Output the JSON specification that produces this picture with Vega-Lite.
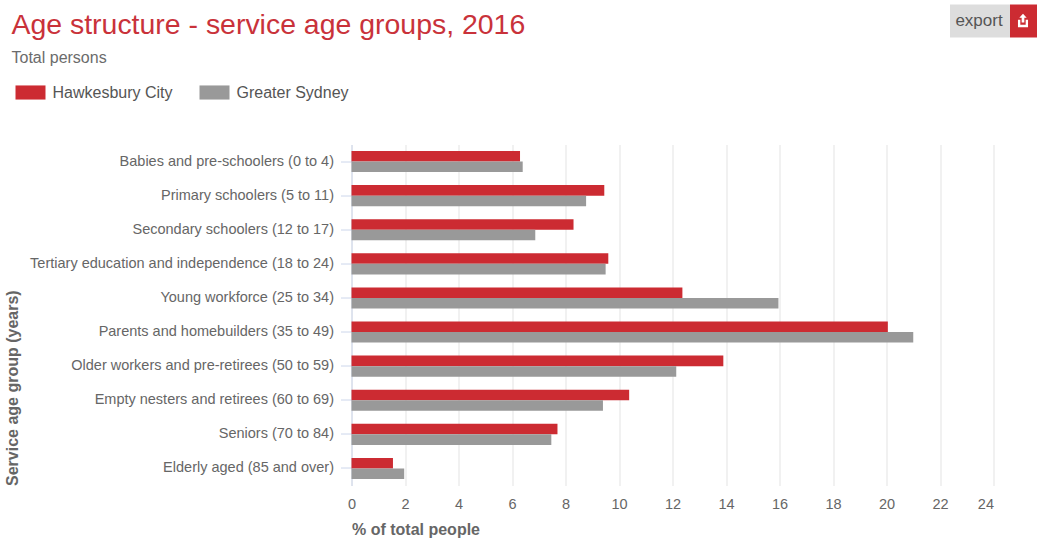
{
  "$schema": "https://vega.github.io/schema/vega-lite/v6.json",
  "width": 642,
  "height": 341,
  "autosize": "none",
  "padding": {"left": 351.5, "top": 144.5, "right": 43.5, "bottom": 54.5},
  "background": "white",
  "title": {
    "text": "Age structure - service age groups, 2016",
    "subtitle": "Total persons",
    "anchor": "start",
    "frame": "group",
    "dx": -340,
    "offset": -62,
    "font": "Liberation Sans",
    "fontSize": 28.45,
    "fontWeight": "normal",
    "color": "#c9323a",
    "subtitleFont": "Liberation Sans",
    "subtitleFontSize": 16,
    "subtitleColor": "#6b6b6b",
    "subtitlePadding": 9
  },
  "config": {"view": {"stroke": null}},
  "data": {
    "values": [
      {"group": "Babies and pre-schoolers (0 to 4)", "area": "Hawkesbury City", "pct": 6.3},
      {"group": "Babies and pre-schoolers (0 to 4)", "area": "Greater Sydney", "pct": 6.4},
      {"group": "Primary schoolers (5 to 11)", "area": "Hawkesbury City", "pct": 9.45},
      {"group": "Primary schoolers (5 to 11)", "area": "Greater Sydney", "pct": 8.77},
      {"group": "Secondary schoolers (12 to 17)", "area": "Hawkesbury City", "pct": 8.3},
      {"group": "Secondary schoolers (12 to 17)", "area": "Greater Sydney", "pct": 6.87},
      {"group": "Tertiary education and independence (18 to 24)", "area": "Hawkesbury City", "pct": 9.6},
      {"group": "Tertiary education and independence (18 to 24)", "area": "Greater Sydney", "pct": 9.5},
      {"group": "Young workforce (25 to 34)", "area": "Hawkesbury City", "pct": 12.37},
      {"group": "Young workforce (25 to 34)", "area": "Greater Sydney", "pct": 15.96},
      {"group": "Parents and homebuilders (35 to 49)", "area": "Hawkesbury City", "pct": 20.05},
      {"group": "Parents and homebuilders (35 to 49)", "area": "Greater Sydney", "pct": 21.0},
      {"group": "Older workers and pre-retirees (50 to 59)", "area": "Hawkesbury City", "pct": 13.9},
      {"group": "Older workers and pre-retirees (50 to 59)", "area": "Greater Sydney", "pct": 12.14},
      {"group": "Empty nesters and retirees (60 to 69)", "area": "Hawkesbury City", "pct": 10.38},
      {"group": "Empty nesters and retirees (60 to 69)", "area": "Greater Sydney", "pct": 9.4},
      {"group": "Seniors (70 to 84)", "area": "Hawkesbury City", "pct": 7.7},
      {"group": "Seniors (70 to 84)", "area": "Greater Sydney", "pct": 7.47},
      {"group": "Elderly aged (85 and over)", "area": "Hawkesbury City", "pct": 1.55},
      {"group": "Elderly aged (85 and over)", "area": "Greater Sydney", "pct": 1.97}
    ]
  },
  "layer": [
    {
      "mark": {"type": "bar"},
      "encoding": {
        "y": {
          "field": "group",
          "type": "nominal",
          "sort": null,
          "scale": {"paddingInner": 0.38, "paddingOuter": 0.19},
          "axis": {
            "title": "Service age group (years)",
            "titleFont": "Liberation Sans",
            "titleFontSize": 16,
            "titleFontWeight": "bold",
            "titleColor": "#666666",
            "titleAlign": "left",
            "titleBaseline": "middle",
            "titleX": -339.5,
            "titleY": 341,
            "labelFont": "Liberation Sans",
            "labelFontSize": 14.5,
            "labelColor": "#666666",
            "labelLimit": 340,
            "labelPadding": 7,
            "tickColor": "#ccd6eb",
            "tickSize": 11,
            "domainColor": "#ccd6eb",
            "grid": false
          }
        },
        "yOffset": {
          "field": "area",
          "type": "nominal",
          "sort": ["Hawkesbury City", "Greater Sydney"],
          "scale": {"paddingInner": 0, "paddingOuter": 0}
        },
        "x": {
          "field": "pct",
          "type": "quantitative",
          "scale": {"domain": [0, 24], "nice": false},
          "axis": {
            "values": [0, 2, 4, 6, 8, 10, 12, 14, 16, 18, 20, 22, 24],
            "title": "% of total people",
            "titleFont": "Liberation Sans",
            "titleFontSize": 16,
            "titleFontWeight": "bold",
            "titleColor": "#666666",
            "titleAnchor": "start",
            "titlePadding": 10,
            "labelFont": "Liberation Sans",
            "labelFontSize": 14.5,
            "labelColor": "#666666",
            "labelPadding": 12,
            "labelFlush": false,
            "labelAlign": {"condition": {"test": "datum.value === 24", "value": "right"}, "value": "center"},
            "domain": false,
            "ticks": false,
            "grid": true,
            "gridColor": "#e3e3e3"
          }
        },
        "color": {
          "field": "area",
          "type": "nominal",
          "scale": {"domain": ["Hawkesbury City", "Greater Sydney"], "range": ["#cc2b32", "#999999"]},
          "legend": {
            "orient": "none",
            "legendX": -336,
            "legendY": -67,
            "direction": "horizontal",
            "columns": 2,
            "title": null,
            "symbolType": "M-1,-0.47H1V0.47H-1Z",
            "symbolSize": 900,
            "symbolStrokeWidth": 0,
            "labelFont": "Liberation Sans",
            "labelFontSize": 16,
            "labelColor": "#555555",
            "labelOffset": 7,
            "columnPadding": 26,
            "gridAlign": "each"
          }
        }
      }
    },
    {
      "data": {"values": [{"label": "export"}]},
      "layer": [
        {
          "mark": {"type": "rect", "color": "#dddddd"},
          "encoding": {
            "x": {"value": 598.5},
            "x2": {"value": 658.5},
            "y": {"value": -140},
            "y2": {"value": -107}
          }
        },
        {
          "mark": {"type": "rect", "color": "#cc2b32"},
          "encoding": {
            "x": {"value": 658.5},
            "x2": {"value": 685.5},
            "y": {"value": -140},
            "y2": {"value": -107}
          }
        },
        {
          "mark": {"type": "text", "font": "Liberation Sans", "fontSize": 17, "color": "#555555", "align": "center", "baseline": "middle"},
          "encoding": {
            "text": {"field": "label"},
            "x": {"value": 627.5},
            "y": {"value": -123.5}
          }
        },
        {
          "mark": {
            "type": "point",
            "filled": true,
            "color": "white",
            "opacity": 1,
            "size": 180,
            "shape": "M0,-1L0.55,-0.4H0.2V0.3H-0.2V-0.4H-0.55ZM-0.75,-0.1H-0.4V0.65H0.4V-0.1H0.75V1H-0.75Z"
          },
          "encoding": {
            "x": {"value": 671.5},
            "y": {"value": -124}
          }
        }
      ]
    }
  ]
}
